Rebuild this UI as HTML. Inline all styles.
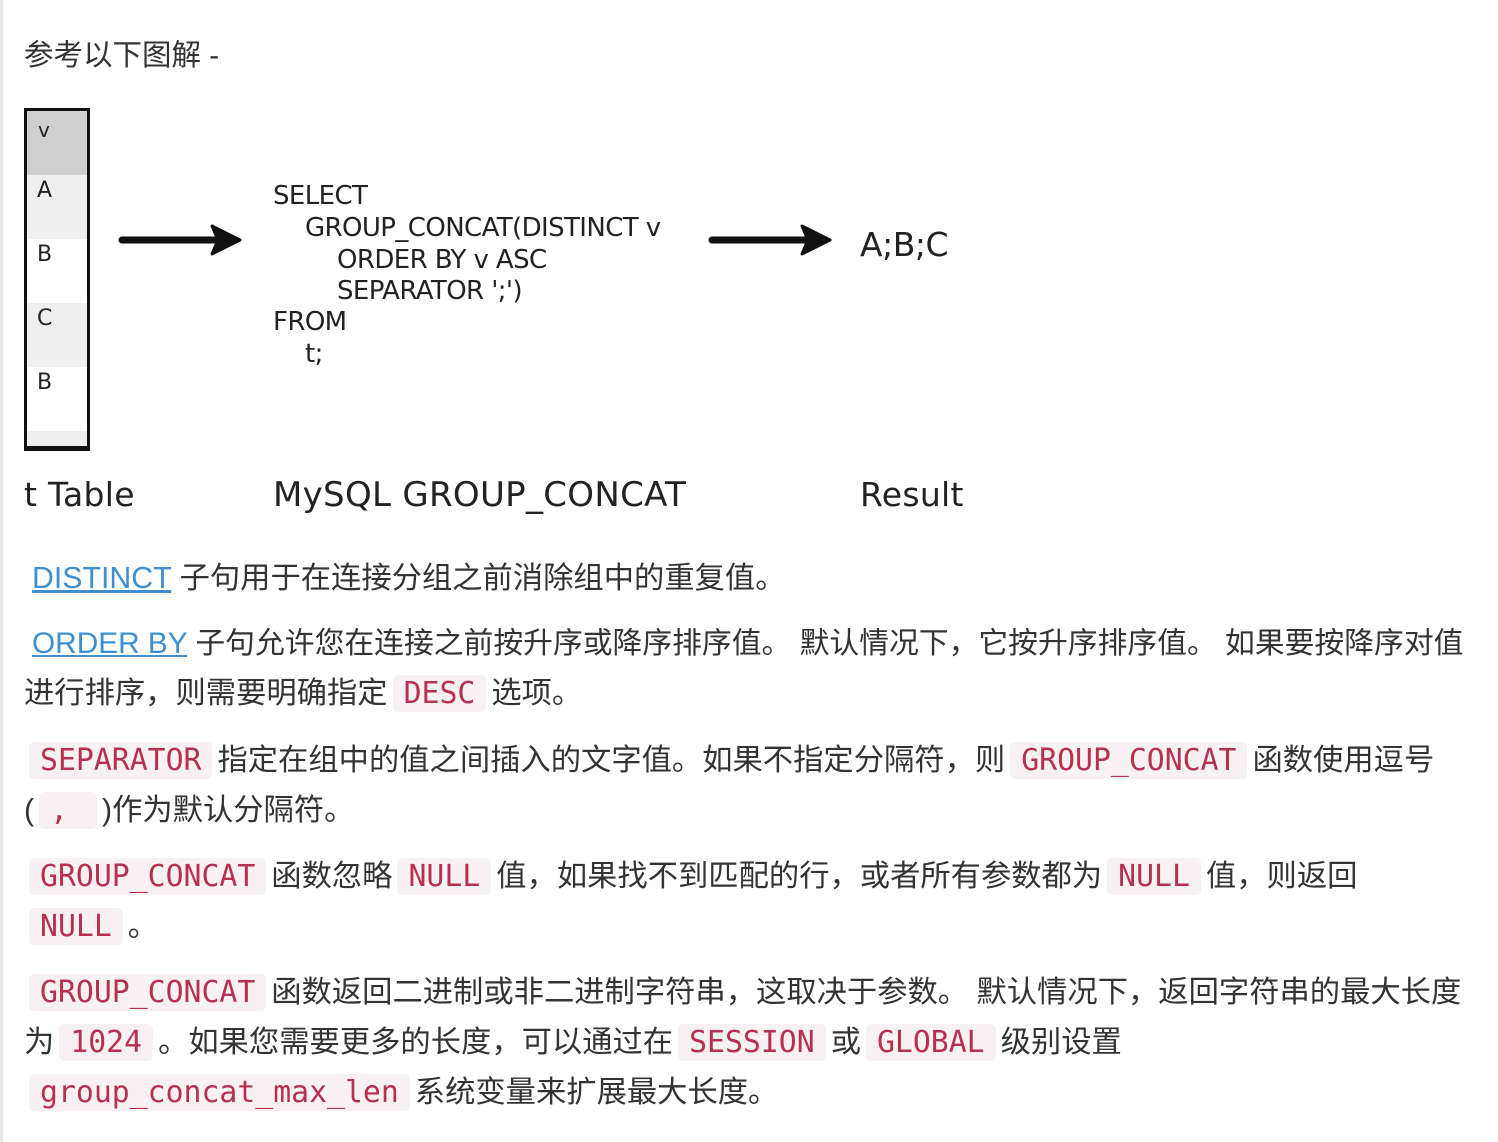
<!DOCTYPE html>
<html><head><meta charset="utf-8"><style>
body{margin:0;width:1498px;height:1142px;background:#fff;position:relative;overflow:hidden;font-family:"Liberation Sans","Noto Sans CJK SC",sans-serif;color:#333;}
.bar{position:absolute;left:0;top:0;width:3px;height:1142px;background:#e8e8e8}
.l{position:absolute;left:24px;font-size:30.3px;line-height:40px;white-space:nowrap;}
code{font-family:"DejaVu Sans Mono","Liberation Mono",monospace;font-size:29.8px;color:#b8304f;background:#f8f1f3;border-radius:5px;padding:1px 11px;margin:0 5px;}
a{color:#3d8fd1;text-decoration:underline}
.d{position:absolute;font-family:"DejaVu Sans","Liberation Sans",sans-serif;color:#222;white-space:nowrap;}
.c{font-size:26px;letter-spacing:-0.6px;}
.lab{font-size:33px;letter-spacing:0.3px}
</style></head><body>
<div class="bar"></div>
<div class="l" style="top:36px;font-size:29.5px">参考以下图解 -</div>

<div style="position:absolute;left:24px;top:108px;width:60px;height:335px;border:3px solid #111;border-bottom-width:5px;background:#fff">
<div style="height:64px;background:#cfcfcf"></div>
<div style="height:64px;background:#efefef"></div>
<div style="height:64px;background:#fff"></div>
<div style="height:64px;background:#efefef"></div>
<div style="height:64px;background:#fff"></div>
<div style="height:15px;background:#efefef"></div>
</div>
<div class="d" style="left:38px;top:118px;font-size:20px">v</div>
<div class="d" style="left:37px;top:178px;font-size:22px">A</div>
<div class="d" style="left:37px;top:242px;font-size:22px">B</div>
<div class="d" style="left:37px;top:306px;font-size:22px">C</div>
<div class="d" style="left:37px;top:370px;font-size:22px">B</div>

<svg style="position:absolute;left:0;top:0" width="1498" height="600">
<line x1="122" y1="240" x2="222" y2="240" stroke="#111" stroke-width="7" stroke-linecap="round"/>
<path d="M212 226 L240 240 L212 254 L218 240 Z" fill="#111" stroke="#111" stroke-width="3" stroke-linejoin="round"/>
<line x1="712" y1="240" x2="812" y2="240" stroke="#111" stroke-width="7" stroke-linecap="round"/>
<path d="M802 226 L830 240 L802 254 L808 240 Z" fill="#111" stroke="#111" stroke-width="3" stroke-linejoin="round"/>
</svg>

<div class="d c" style="left:273px;top:181px">SELECT</div>
<div class="d c" style="left:305px;top:213px">GROUP_CONCAT(DISTINCT v</div>
<div class="d c" style="left:337px;top:245px">ORDER BY v ASC</div>
<div class="d c" style="left:337px;top:276px">SEPARATOR ';')</div>
<div class="d c" style="left:273px;top:307px">FROM</div>
<div class="d c" style="left:305px;top:339px">t;</div>
<div class="d" style="left:860px;top:225px;font-size:33px;letter-spacing:-0.5px">A;B;C</div>

<div class="d lab" style="left:24px;top:475px">t Table</div>
<div class="d lab" style="left:273px;top:475px;font-size:34px">MySQL GROUP_CONCAT</div>
<div class="d lab" style="left:860px;top:475px">Result</div>

<div class="l" style="top:559px;left:32px"><a>DISTINCT</a> 子句用于在连接分组之前消除组中的重复值。</div>
<div class="l" style="top:624px;left:32px;font-size:29.8px"><a>ORDER BY</a> 子句允许您在连接之前按升序或降序排序值。 默认情况下，它按升序排序值。 如果要按降序对值</div>
<div class="l" style="top:674px">进行排序，则需要明确指定<code>DESC</code>选项。</div>
<div class="l" style="top:741px"><code>SEPARATOR</code>指定在组中的值之间插入的文字值。如果不指定分隔符，则<code>GROUP_CONCAT</code>函数使用逗号</div>
<div class="l" style="top:791px">(<code>, </code>)作为默认分隔符。</div>
<div class="l" style="top:857px"><code>GROUP_CONCAT</code>函数忽略<code>NULL</code>值，如果找不到匹配的行，或者所有参数都为<code>NULL</code>值，则返回</div>
<div class="l" style="top:907px"><code>NULL</code>。</div>
<div class="l" style="top:973px"><code>GROUP_CONCAT</code>函数返回二进制或非二进制字符串，这取决于参数。 默认情况下，返回字符串的最大长度</div>
<div class="l" style="top:1023px">为<code>1024</code>。如果您需要更多的长度，可以通过在<code>SESSION</code>或<code>GLOBAL</code>级别设置</div>
<div class="l" style="top:1073px"><code>group_concat_max_len</code>系统变量来扩展最大长度。</div>
</body></html>
